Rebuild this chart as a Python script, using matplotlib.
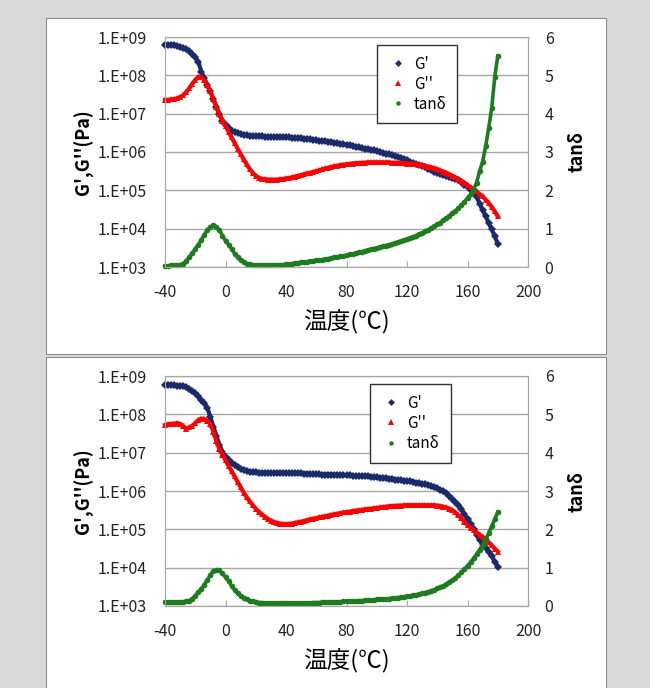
import matplotlib
matplotlib.use('Agg')
import matplotlib.pyplot as plt
from matplotlib.patches import Rectangle
from matplotlib.lines import Line2D
from matplotlib.ticker import FuncFormatter, NullLocator
import numpy as np

plt.rcParams['font.family'] = ['Noto Sans CJK JP', 'DejaVu Sans']
plt.rcParams['axes.unicode_minus'] = False

# temperature (°C), one point every 2 degrees
temp = list(range(-40, 182, 2))

# upper chart: G' and G'' as log10(Pa), tan delta as is
top_g1 = [8.80, 8.80, 8.79, 8.78, 8.77, 8.75, 8.72, 8.68, 8.63, 8.56,   # -40
          8.47, 8.36, 8.10, 7.92, 7.75, 7.58, 7.38, 7.18, 6.98, 6.82,   # -20
          6.70, 6.62, 6.56, 6.52, 6.49, 6.47, 6.45, 6.44, 6.43, 6.42,   # 0
          6.42, 6.41, 6.41, 6.40, 6.40, 6.40, 6.39, 6.39, 6.38, 6.38,   # 20
          6.38, 6.38, 6.37, 6.37, 6.36, 6.36, 6.35, 6.34, 6.33, 6.32,   # 40
          6.31, 6.30, 6.29, 6.28, 6.27, 6.25, 6.24, 6.23, 6.21, 6.20,   # 60
          6.18, 6.17, 6.15, 6.14, 6.12, 6.10, 6.09, 6.07, 6.05, 6.04,   # 80
          6.02, 6.00, 5.98, 5.96, 5.94, 5.92, 5.89, 5.86, 5.84, 5.81,   # 100
          5.78, 5.75, 5.72, 5.69, 5.66, 5.63, 5.60, 5.56, 5.53, 5.49,   # 120
          5.45, 5.42, 5.40, 5.37, 5.35, 5.32, 5.29, 5.26, 5.22, 5.15,   # 140
          5.08, 5.00, 4.92, 4.83, 4.65, 4.48, 4.32, 4.15, 3.98, 3.80,   # 160
          3.61]
top_g2 = [7.36, 7.36, 7.37, 7.38, 7.40, 7.43, 7.48, 7.56, 7.66, 7.78,
          7.88, 7.96, 7.95, 7.88, 7.75, 7.58, 7.38, 7.18, 6.98, 6.82,
          6.68, 6.53, 6.38, 6.24, 6.09, 5.95, 5.81, 5.68, 5.56, 5.46,
          5.38, 5.33, 5.30, 5.29, 5.28, 5.28, 5.28, 5.28, 5.29, 5.30,
          5.31, 5.32, 5.34, 5.36, 5.38, 5.40, 5.42, 5.44, 5.46, 5.48,
          5.50, 5.52, 5.55, 5.57, 5.59, 5.61, 5.63, 5.64, 5.66, 5.67,
          5.68, 5.69, 5.70, 5.71, 5.71, 5.72, 5.72, 5.73, 5.73, 5.73,
          5.73, 5.73, 5.73, 5.73, 5.73, 5.72, 5.72, 5.72, 5.71, 5.71,
          5.70, 5.70, 5.69, 5.68, 5.67, 5.66, 5.64, 5.62, 5.60, 5.58,
          5.55, 5.52, 5.49, 5.46, 5.42, 5.38, 5.34, 5.30, 5.25, 5.20,
          5.14, 5.08, 5.03, 4.97, 4.90, 4.84, 4.76, 4.67, 4.57, 4.45,
          4.32]
top_tan = [0.03, 0.03, 0.04, 0.04, 0.05, 0.06, 0.09, 0.16, 0.25, 0.36,
           0.47, 0.58, 0.71, 0.84, 0.97, 1.05, 1.09, 1.05, 0.96, 0.82,
           0.68, 0.58, 0.47, 0.35, 0.25, 0.17, 0.12, 0.09, 0.07, 0.05,
           0.04, 0.04, 0.04, 0.04, 0.04, 0.04, 0.05, 0.05, 0.06, 0.06,
           0.07, 0.08, 0.09, 0.10, 0.11, 0.12, 0.13, 0.14, 0.15, 0.16,
           0.17, 0.18, 0.19, 0.21, 0.22, 0.23, 0.25, 0.26, 0.28, 0.29,
           0.31, 0.33, 0.34, 0.36, 0.38, 0.40, 0.42, 0.44, 0.46, 0.48,
           0.50, 0.52, 0.54, 0.56, 0.58, 0.60, 0.63, 0.65, 0.68, 0.70,
           0.73, 0.76, 0.79, 0.82, 0.86, 0.89, 0.93, 0.97, 1.01, 1.06,
           1.11, 1.16, 1.22, 1.28, 1.34, 1.40, 1.46, 1.53, 1.61, 1.70,
           1.80, 1.90, 2.02, 2.20, 2.50, 2.75, 3.15, 3.62, 4.15, 4.95,
           5.50]

# lower chart
bot_g1 = [8.77, 8.77, 8.76, 8.76, 8.75, 8.75, 8.74, 8.71, 8.67, 8.62,
          8.55, 8.47, 8.37, 8.30, 8.17, 7.93, 7.68, 7.44, 7.21, 7.02,
          6.89, 6.80, 6.73, 6.67, 6.62, 6.58, 6.55, 6.52, 6.50, 6.49,
          6.49, 6.48, 6.48, 6.48, 6.48, 6.47, 6.47, 6.47, 6.47, 6.47,
          6.47, 6.46, 6.46, 6.46, 6.46, 6.46, 6.45, 6.45, 6.45, 6.44,
          6.44, 6.44, 6.43, 6.43, 6.43, 6.43, 6.42, 6.42, 6.42, 6.41,
          6.41, 6.41, 6.40, 6.40, 6.39, 6.39, 6.38, 6.38, 6.37, 6.36,
          6.36, 6.35, 6.34, 6.33, 6.32, 6.31, 6.30, 6.29, 6.28, 6.27,
          6.26, 6.25, 6.23, 6.22, 6.20, 6.19, 6.17, 6.15, 6.13, 6.10,
          6.07, 6.03, 5.99, 5.94, 5.87, 5.80, 5.72, 5.64, 5.53, 5.40,
          5.26, 5.13, 5.00, 4.86, 4.72, 4.62, 4.52, 4.42, 4.30, 4.16,
          4.02]
bot_g2 = [7.72, 7.74, 7.75, 7.76, 7.77, 7.75, 7.70, 7.62, 7.66, 7.70,
          7.77, 7.85, 7.89, 7.88, 7.83, 7.75, 7.55, 7.30, 7.10, 6.95,
          6.80, 6.66, 6.52, 6.38, 6.24, 6.10, 5.96, 5.84, 5.73, 5.63,
          5.54, 5.46, 5.39, 5.33, 5.27, 5.23, 5.19, 5.17, 5.15, 5.14,
          5.14, 5.14, 5.15, 5.17, 5.18, 5.20, 5.22, 5.24, 5.26, 5.28,
          5.29, 5.31, 5.33, 5.34, 5.36, 5.38, 5.39, 5.41, 5.42, 5.44,
          5.45, 5.46, 5.48, 5.49, 5.50, 5.51, 5.52, 5.53, 5.54, 5.55,
          5.56, 5.57, 5.58, 5.59, 5.60, 5.61, 5.61, 5.62, 5.62, 5.63,
          5.63, 5.63, 5.63, 5.63, 5.63, 5.63, 5.63, 5.63, 5.63, 5.63,
          5.62, 5.61, 5.59, 5.57, 5.54, 5.50, 5.44, 5.37, 5.29, 5.20,
          5.11, 5.04, 4.98, 4.92, 4.86, 4.81, 4.74, 4.66, 4.58, 4.50,
          4.42]
bot_tan = [0.10, 0.10, 0.10, 0.10, 0.10, 0.11, 0.11, 0.12, 0.14, 0.19,
           0.27, 0.36, 0.45, 0.56, 0.68, 0.81, 0.91, 0.95, 0.93, 0.85,
           0.75, 0.64, 0.53, 0.42, 0.33, 0.26, 0.21, 0.17, 0.14, 0.12,
           0.10, 0.09, 0.09, 0.08, 0.08, 0.08, 0.08, 0.08, 0.08, 0.08,
           0.08, 0.08, 0.08, 0.08, 0.08, 0.08, 0.08, 0.08, 0.08, 0.09,
           0.09, 0.09, 0.10, 0.10, 0.10, 0.10, 0.11, 0.11, 0.11, 0.12,
           0.12, 0.12, 0.13, 0.13, 0.14, 0.14, 0.15, 0.15, 0.16, 0.16,
           0.17, 0.17, 0.18, 0.19, 0.19, 0.20, 0.21, 0.22, 0.23, 0.24,
           0.25, 0.26, 0.28, 0.29, 0.31, 0.33, 0.35, 0.37, 0.40, 0.42,
           0.46, 0.49, 0.53, 0.57, 0.62, 0.67, 0.73, 0.80, 0.88, 0.96,
           1.05, 1.14, 1.24, 1.35, 1.47, 1.60, 1.74, 1.90, 2.08, 2.26,
           2.45]

x_ticks = [-40, 0, 40, 80, 120, 160, 200]
tan_ticks = [0, 1, 2, 3, 4, 5, 6]
labels = ["G'", "G''", 'tanδ']

c_g1 = '#1b2a6b'
c_g2 = '#ff0000'
c_tan = '#1e7b1e'
c_grid = '#a6a6a6'

W, H = 650, 688
fig = plt.figure(figsize=(6.5, 6.88), dpi=100, facecolor='#d9d9d9')


def fx(x):
    return x / W


def fy(y):
    return 1 - y / H


# white chart panels (behind the axes)
for y0, y1 in [(18, 354), (357, 692)]:
    fig.patches.append(Rectangle((fx(45.5), fy(y1)), (606 - 45.5) / W, (y1 - y0) / H,
                                 transform=fig.transFigure, facecolor='white',
                                 edgecolor='#8c8c8c', lw=0.8, zorder=-5))


def draw_panel(top, g1, g2, tan, leg_pos):
    ax = fig.add_axes([fx(165), fy(top + 230), 363 / W, 230 / H])
    ax2 = ax.twinx()

    ax.plot(temp, 10 ** np.array(g1), color=c_g1, lw=3, marker='D', ms=4.5, mew=0,
            clip_on=False, zorder=3)
    ax.plot(temp, 10 ** np.array(g2), color=c_g2, lw=3, marker='^', ms=5, mew=0,
            clip_on=False, zorder=3)
    ax2.plot(temp, tan, color=c_tan, lw=2.6, marker='o', ms=4, mew=0, clip_on=False)

    ax.set_yscale('log')
    ax.set_xlim(-40, 200)
    ax.set_ylim(1e3, 1e9)
    ax2.set_ylim(0, 6)
    ax.set_xticks(x_ticks)
    ax.set_yticks([10.0 ** k for k in range(3, 10)])
    ax.yaxis.set_minor_locator(NullLocator())
    ax.yaxis.set_major_formatter(FuncFormatter(lambda v, p: '1.E+%02d' % round(np.log10(v))))
    ax2.set_yticks(tan_ticks)
    ax.grid(axis='y', color=c_grid, lw=1)

    ax.tick_params(axis='x', direction='in', length=4, color=c_grid, pad=12,
                   labelsize=11.5, labelcolor='#222222')
    ax.tick_params(axis='y', length=0, pad=13, labelsize=11.5, labelcolor='#222222')
    ax2.tick_params(axis='y', length=0, pad=12, labelsize=11.5, labelcolor='#222222')
    for a in (ax, ax2):
        for s in a.spines.values():
            s.set_color(c_grid)

    handles = [Line2D([], [], ls='none', marker='D', ms=3.5, mew=0, color=c_g1),
               Line2D([], [], ls='none', marker='^', ms=4.5, mew=0, color=c_g2),
               Line2D([], [], ls='none', marker='o', ms=3.2, mew=0, color=c_tan)]
    leg = ax2.legend(handles, labels, loc='upper left', bbox_to_anchor=leg_pos,
                     borderaxespad=0, fancybox=False, framealpha=1, edgecolor='#333333',
                     fontsize=11, handlelength=1.3, handletextpad=0.4,
                     labelspacing=0.2, borderpad=0.7)
    leg.get_frame().set_linewidth(1)

    fig.text(fx(84), fy(top + 115), "G',G''(Pa)", rotation=90, ha='center', va='center',
             fontsize=13, fontweight='bold')
    fig.text(fx(577), fy(top + 115), 'tanδ', rotation=90, ha='center', va='center',
             fontsize=13, fontweight='bold')
    fig.text(fx(346), fy(top + 285), '温度(℃)', ha='center', va='center', fontsize=17)


draw_panel(37, top_g1, top_g2, top_tan, (0.584, 0.966))
draw_panel(376, bot_g1, bot_g2, bot_tan, (0.566, 0.965))

fig.savefig('out.png', dpi=100, facecolor=fig.get_facecolor())
